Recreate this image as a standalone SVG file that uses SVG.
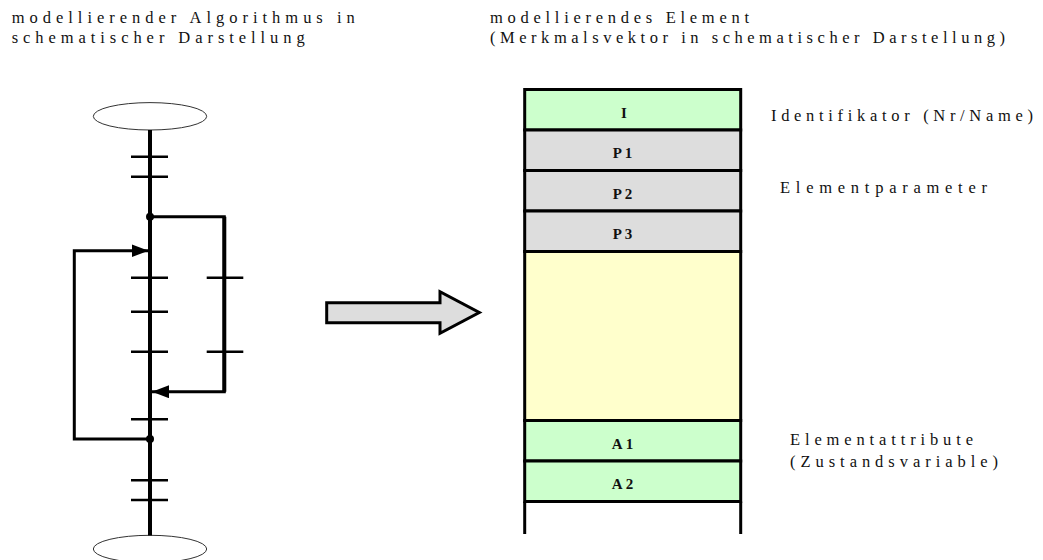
<svg xmlns="http://www.w3.org/2000/svg" width="1043" height="560" viewBox="0 0 1043 560">
<style>
.t{font-family:"Liberation Serif","Times New Roman",serif;font-size:16.5px;fill:#111}
.b{font-family:"Liberation Serif","Times New Roman",serif;font-size:15px;font-weight:bold;fill:#111;text-anchor:middle}
.row{stroke:#000;stroke-width:3}
.tick{stroke:#000;stroke-width:2.5;fill:none}
.ln{stroke:#000;fill:none}
.ell{fill:#fff;stroke:#333;stroke-width:1}
</style>
<defs>
<marker id="ah" viewBox="0 0 17 13" refX="17" refY="6.5" markerWidth="17" markerHeight="13" markerUnits="userSpaceOnUse" orient="auto">
<path d="M0,0 L17,6.5 L0,13 Z" fill="#000"/>
</marker>
</defs>
<rect width="1043" height="560" fill="#fff"/>
<g id="titles">
<text class="t" x="11.7" y="23" textLength="343" lengthAdjust="spacing">modellierender Algorithmus in</text>
<text class="t" x="11.7" y="43" textLength="293" lengthAdjust="spacing">schematischer Darstellung</text>
<text class="t" x="490" y="23" textLength="259" lengthAdjust="spacing">modellierendes Element</text>
<text class="t" x="490" y="43" textLength="515" lengthAdjust="spacing">(Merkmalsvektor in schematischer Darstellung)</text>
</g>
<g id="start"><ellipse class="ell" cx="150" cy="116.3" rx="56.7" ry="13.7"/></g>
<g id="end"><ellipse class="ell" cx="150" cy="549" rx="56.7" ry="13.7"/></g>
<g id="connectors">
<line class="ln" x1="150" y1="130" x2="150" y2="535.5" stroke-width="4"/>
<polyline class="ln" points="150,216.7 224.3,216.7 224.3,391.7 152,391.7" stroke-width="3" marker-end="url(#ah)"/>
<line class="ln" x1="224.3" y1="216.7" x2="224.3" y2="391.7" stroke-width="4"/>
<polyline class="ln" points="150,439 74.3,439 74.3,250.7 148.5,250.7" stroke-width="3" marker-end="url(#ah)"/>
<circle cx="150" cy="216.7" r="4" fill="#000"/>
<circle cx="150" cy="439" r="4" fill="#000"/>
<g class="tick">
<line x1="131" y1="156.7" x2="168" y2="156.7"/>
<line x1="131" y1="176.7" x2="168" y2="176.7"/>
<line x1="131" y1="277.7" x2="168" y2="277.7"/>
<line x1="131" y1="311.7" x2="168" y2="311.7"/>
<line x1="131" y1="351.7" x2="168" y2="351.7"/>
<line x1="131" y1="419.3" x2="168" y2="419.3"/>
<line x1="131" y1="480.3" x2="168" y2="480.3"/>
<line x1="131" y1="500" x2="168" y2="500"/>
<line x1="206.7" y1="277.7" x2="243.3" y2="277.7"/>
<line x1="206.7" y1="351.7" x2="243.3" y2="351.7"/>
</g>
<polygon points="326.7,302.7 440,302.7 440,291.7 479.3,312.5 440,333.3 440,322.7 326.7,322.7" fill="#ddd" stroke="#000" stroke-width="3" stroke-linejoin="miter"/>
</g>
<g id="element">
<rect class="row" x="524.7" y="89.5" width="216" height="40.5" fill="#ccffcc"/>
<rect class="row" x="524.7" y="130" width="216" height="40.5" fill="#dddddd"/>
<rect class="row" x="524.7" y="170.5" width="216" height="40.5" fill="#dddddd"/>
<rect class="row" x="524.7" y="211" width="216" height="40.5" fill="#dddddd"/>
<rect class="row" x="524.7" y="251.5" width="216" height="169" fill="#ffffcc"/>
<rect class="row" x="524.7" y="420.5" width="216" height="40.5" fill="#ccffcc"/>
<rect class="row" x="524.7" y="461" width="216" height="40.5" fill="#ccffcc"/>
<line class="row" x1="524.7" y1="501.5" x2="524.7" y2="534"/>
<line class="row" x1="740.7" y1="501.5" x2="740.7" y2="534"/>
<text class="b" x="624" y="117.5">I</text>
<text class="b" x="624" y="158" letter-spacing="3">P1</text>
<text class="b" x="624" y="198.5" letter-spacing="3">P2</text>
<text class="b" x="624" y="239" letter-spacing="3">P3</text>
<text class="b" x="624" y="448.5" letter-spacing="3">A1</text>
<text class="b" x="624" y="489" letter-spacing="3">A2</text>
</g>
<g id="labels">
<text class="t" x="771" y="121" textLength="262" lengthAdjust="spacing">Identifikator (Nr/Name)</text>
<text class="t" x="780" y="193" textLength="207" lengthAdjust="spacing">Elementparameter</text>
<text class="t" x="790" y="445" textLength="183" lengthAdjust="spacing">Elementattribute</text>
<text class="t" x="790" y="467" textLength="208" lengthAdjust="spacing">(Zustandsvariable)</text>
</g>
</svg>
